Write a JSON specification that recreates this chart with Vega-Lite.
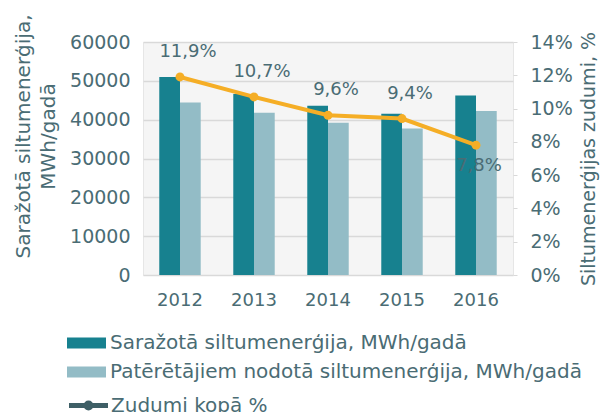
{
  "$schema": "https://vega.github.io/schema/vega-lite/v6.json",
  "width": 370,
  "height": 233,
  "autosize": {"type": "none"},
  "padding": {"left": 143, "top": 42, "right": 100, "bottom": 137},
  "background": "white",
  "config": {
    "font": "DejaVu Sans",
    "locale": {"number": {"decimal": ",", "thousands": " ", "grouping": [3], "currency": ["", " €"]}},
    "view": {"fill": "#f5f5f5", "stroke": "#e6e6e6"},
    "axis": {"labelColor": "#4a6c74", "titleColor": "#4a6c74", "titleFontWeight": "normal", "domain": false}
  },
  "datasets": {
    "bars": [
      {"year": "2012", "series": "Saražotā siltumenerģija, MWh/gadā", "value": 51000},
      {"year": "2013", "series": "Saražotā siltumenerģija, MWh/gadā", "value": 46600},
      {"year": "2014", "series": "Saražotā siltumenerģija, MWh/gadā", "value": 43600},
      {"year": "2015", "series": "Saražotā siltumenerģija, MWh/gadā", "value": 41500},
      {"year": "2016", "series": "Saražotā siltumenerģija, MWh/gadā", "value": 46200},
      {"year": "2012", "series": "Patērētājiem nodotā siltumenerģija, MWh/gadā", "value": 44400},
      {"year": "2013", "series": "Patērētājiem nodotā siltumenerģija, MWh/gadā", "value": 41800},
      {"year": "2014", "series": "Patērētājiem nodotā siltumenerģija, MWh/gadā", "value": 39200},
      {"year": "2015", "series": "Patērētājiem nodotā siltumenerģija, MWh/gadā", "value": 37700},
      {"year": "2016", "series": "Patērētājiem nodotā siltumenerģija, MWh/gadā", "value": 42200}
    ],
    "loss": [
      {"year": "2012", "series": "Zudumi kopā %", "loss": 0.119},
      {"year": "2013", "series": "Zudumi kopā %", "loss": 0.107},
      {"year": "2014", "series": "Zudumi kopā %", "loss": 0.096},
      {"year": "2015", "series": "Zudumi kopā %", "loss": 0.094},
      {"year": "2016", "series": "Zudumi kopā %", "loss": 0.078}
    ]
  },
  "layer": [
    {
      "data": {"name": "bars"},
      "mark": {"type": "bar"},
      "encoding": {
        "x": {
          "field": "year", "type": "nominal",
          "scale": {"paddingInner": 0.44, "paddingOuter": 0.22},
          "axis": {"title": null, "labelAngle": 0, "ticks": false, "labelPadding": 16, "labelFontSize": 18, "grid": false}
        },
        "xOffset": {"field": "series", "type": "nominal", "sort": ["Saražotā siltumenerģija, MWh/gadā", "Patērētājiem nodotā siltumenerģija, MWh/gadā"]},
        "y": {
          "field": "value", "type": "quantitative",
          "scale": {"domain": [0, 60000]},
          "axis": {
            "values": [0, 10000, 20000, 30000, 40000, 50000, 60000],
            "format": "d",
            "labelFontSize": 19,
            "ticks": false,
            "labelPadding": 13,
            "gridColor": "#d9d9d9",
            "gridWidth": 1.5,
            "title": ["Saražotā siltumenerģija,", "MWh/gadā"],
            "titleFontSize": 20,
            "titleAngle": 270,
            "titleAlign": "center",
            "titleBaseline": "top",
            "titleLineHeight": 25,
            "titleX": -130,
            "titleY": 94
          }
        },
        "color": {
          "field": "series", "type": "nominal",
          "scale": {"domain": ["Saražotā siltumenerģija, MWh/gadā", "Patērētājiem nodotā siltumenerģija, MWh/gadā"], "range": ["#17818f", "#93bcc6"]},
          "legend": {
            "orient": "none", "legendX": -66.5, "legendY": 291, "direction": "vertical", "title": null,
            "symbolType": "M-2,-0.56L2,-0.56L2,0.56L-2,0.56Z", "symbolSize": 380, "symbolStrokeWidth": 0,
            "labelFontSize": 20, "labelColor": "#4a6c74", "labelOffset": 13.5, "rowPadding": 9, "padding": 0, "labelLimit": 700
          }
        }
      }
    },
    {
      "data": {"name": "loss"},
      "encoding": {
        "x": {"field": "year", "type": "nominal"},
        "y": {
          "field": "loss", "type": "quantitative",
          "scale": {"domain": [0, 0.14]},
          "axis": {
            "orient": "right",
            "values": [0, 0.02, 0.04, 0.06, 0.08, 0.1, 0.12, 0.14],
            "format": ".0%",
            "labelFontSize": 19,
            "tickSize": 4,
            "tickColor": "#d9d9d9",
            "labelPadding": 13,
            "grid": false,
            "title": "Siltumenerģijas zudumi, %",
            "titleFontSize": 19,
            "titleAngle": 270,
            "titleAlign": "center",
            "titleBaseline": "middle",
            "titleX": 75,
            "titleY": 116.5
          }
        }
      },
      "layer": [
        {
          "mark": {"type": "line", "strokeWidth": 1},
          "encoding": {
            "stroke": {
              "field": "series", "type": "nominal",
              "scale": {"domain": ["Zudumi kopā %"], "range": ["#3e5f66"]},
              "legend": {
                "orient": "none", "legendX": -67, "legendY": 351, "title": null,
                "symbolType": "M-2,0L2,0M-0.25,0A0.25,0.25 0 1,0 0.25,0A0.25,0.25 0 1,0 -0.25,0",
                "symbolSize": 380, "symbolStrokeWidth": 5, "symbolStrokeColor": "#3e5f66", "symbolFillColor": "#3e5f66",
                "labelFontSize": 20, "labelColor": "#4a6c74", "labelOffset": 10, "padding": 0
              }
            }
          }
        },
        {
          "mark": {"type": "line", "strokeWidth": 4, "color": "#f5ae26", "point": {"filled": true, "size": 80, "color": "#f5ae26"}}
        },
        {
          "transform": [{"filter": "datum.year != '2016'"}],
          "mark": {"type": "text", "dy": -25, "dx": 8, "fontSize": 18, "color": "#4a6c74"},
          "encoding": {"text": {"field": "loss", "type": "quantitative", "format": ".1%"}}
        },
        {
          "transform": [{"filter": "datum.year == '2016'"}],
          "mark": {"type": "text", "dy": 21, "dx": 3, "fontSize": 18, "color": "#4a6c74"},
          "encoding": {"text": {"field": "loss", "type": "quantitative", "format": ".1%"}}
        }
      ]
    }
  ],
  "resolve": {"scale": {"y": "independent"}}
}
